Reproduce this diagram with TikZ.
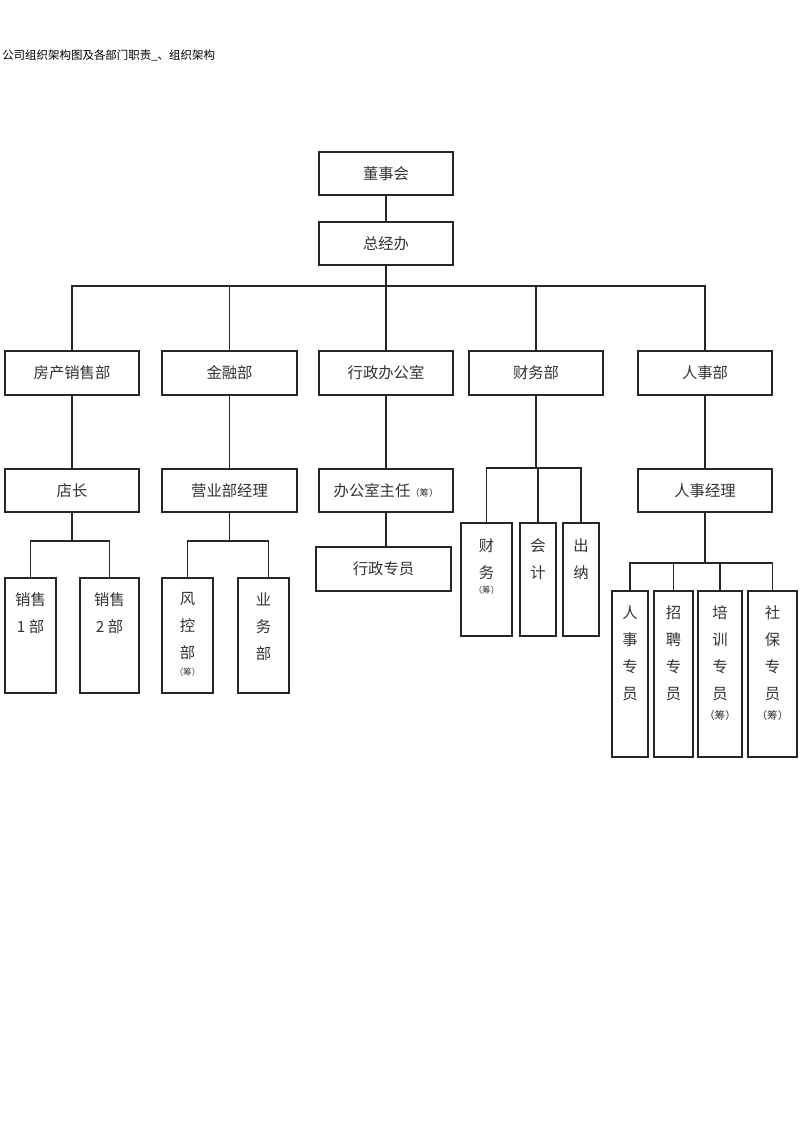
\documentclass[tikz,border=0pt]{standalone}
\usepackage{fontspec}
\setmainfont{Noto Sans CJK SC}
\begin{document}
\begin{tikzpicture}[x=0.75pt,y=-0.75pt,
  box/.style={draw=black!85,line width=0.85pt,inner sep=0pt,fill=white,
    text=black!80,font=\fontsize{11.5}{13}\selectfont},
  vt/.style={anchor=north,align=center,inner sep=0pt,text=black!80,
    font=\fontsize{11.5}{20.25}\selectfont},
  sm/.style={inner sep=0pt,text=black!80,font=\fontsize{6.5}{7}\selectfont},
  smb/.style={inner sep=0pt,text=black!80,font=\fontsize{8}{9}\selectfont},
  wire/.style={draw=black!85,line width=0.85pt}]
\useasboundingbox[fill=white] (0,0) rectangle (800,1130);
\node[anchor=west,inner sep=0pt,font=\fontsize{8.6}{10}\selectfont] (title) at (2,55) {公司组织架构图及各部门职责\_、组织架构};
% top
\node[box,minimum width=100.5pt,minimum height=32.25pt] (dsh) at (386,173.5) {董事会};
\node[box,minimum width=100.5pt,minimum height=32.25pt] (zjb) at (386,243.5) {总经办};
% row 2
\node[box,minimum width=100.5pt,minimum height=33pt] (fc) at (72,373) {房产销售部};
\node[box,minimum width=101.25pt,minimum height=33pt] (jr) at (229.5,373) {金融部};
\node[box,minimum width=100.5pt,minimum height=33pt] (xz) at (386,373) {行政办公室};
\node[box,minimum width=100.5pt,minimum height=33pt] (cw) at (536,373) {财务部};
\node[box,minimum width=100.5pt,minimum height=33pt] (rs) at (705,373) {人事部};
% row 3
\node[box,minimum width=100.5pt,minimum height=32.25pt] (dz) at (72,490.5) {店长};
\node[box,minimum width=101.25pt,minimum height=32.25pt] (yy) at (229.5,490.5) {营业部经理};
\node[box,minimum width=100.5pt,minimum height=32.25pt] (bgs) at (386,490.5) {办公室主任{\fontsize{7}{8}\selectfont（筹）}};
\node[box,minimum width=100.5pt,minimum height=32.25pt] (rsjl) at (705,490.5) {人事经理};
\node[box,minimum width=101.25pt,minimum height=33pt] (xzzy) at (383.5,569) {行政专员};
% tall boxes sales / finance
\node[box,minimum width=38.25pt,minimum height=86.25pt] (xs1) at (30.5,635.5) {};
\node[box,minimum width=44.25pt,minimum height=86.25pt] (xs2) at (109.5,635.5) {};
\node[box,minimum width=38.25pt,minimum height=86.25pt] (fk) at (187.5,635.5) {};
\node[box,minimum width=38.25pt,minimum height=86.25pt] (yw) at (263.5,635.5) {};
\node[vt] at ([yshift=-11pt]xs1.north) {销售\\1 部};
\node[vt] at ([yshift=-11pt]xs2.north) {销售\\2 部};
\node[vt] at ([yshift=-11pt]fk.north) {风\\控\\部};
\node[sm] at (187.5,672) {（筹）};
\node[vt] at ([yshift=-11pt]yw.north) {业\\务\\部};
\node[box,minimum width=38.25pt,minimum height=84.75pt] (cwb) at (486.5,579.5) {};
\node[box,minimum width=27pt,minimum height=84.75pt] (kj) at (538,579.5) {};
\node[box,minimum width=27pt,minimum height=84.75pt] (cn) at (581,579.5) {};
\node[vt] at ([yshift=-12pt]cwb.north) {财\\务};
\node[sm] at (486.5,590) {（筹）};
\node[vt] at ([yshift=-12pt]kj.north) {会\\计};
\node[vt] at ([yshift=-12pt]cn.north) {出\\纳};
% HR
\node[box,minimum width=27pt,minimum height=124.5pt] (rszy) at (630,674) {};
\node[box,minimum width=29.25pt,minimum height=124.5pt] (zp) at (673.5,674) {};
\node[box,minimum width=33pt,minimum height=124.5pt] (px) at (720,674) {};
\node[box,minimum width=36.75pt,minimum height=124.5pt] (sb) at (772.5,674) {};
\node[vt] at ([yshift=-11pt]rszy.north) {人\\事\\专\\员};
\node[vt] at ([yshift=-11pt]zp.north) {招\\聘\\专\\员};
\node[vt] at ([yshift=-11pt]px.north) {培\\训\\专\\员};
\node[smb] at (720,715) {（筹）};
\node[vt] at ([yshift=-11pt]sb.north) {社\\保\\专\\员};
\node[smb] at (772.5,715) {（筹）};
% connectors
\coordinate (bus) at (386,286);
\draw[wire] (dsh.south) -- (zjb.north);
\draw[wire] (zjb.south) -- (bus);
\draw[wire] (fc.north) |- (bus) -| (rs.north);
\draw[wire] (jr.north) -- (jr.north |- bus);
\draw[wire] (bus) -- (xz.north);
\draw[wire] (cw.north) -- (cw.north |- bus);
\draw[wire] (fc.south) -- (dz.north);
\draw[wire] (jr.south) -- (yy.north);
\draw[wire] (xz.south) -- (bgs.north);
\draw[wire] (rs.south) -- (rsjl.north);
\draw[wire] (bgs.south) -- (bgs.south |- xzzy.north);
\coordinate (dzb) at (72,541);
\draw[wire] (dz.south) -- (dzb);
\draw[wire] (xs1.north) |- (dzb) -| (xs2.north);
\coordinate (yyb) at (229.5,541);
\draw[wire] (yy.south) -- (yyb);
\draw[wire] (fk.north) |- (yyb) -| ([xshift=4pt]yw.north);
\coordinate (cwbus) at (536,468);
\draw[wire] (cw.south) -- (cwbus);
\draw[wire] (cwb.north) |- (cwbus) -| (cn.north);
\draw[wire] (kj.north) -- (kj.north |- cwbus);
\coordinate (rsb) at (705,563);
\draw[wire] (rsjl.south) -- (rsb);
\draw[wire] (rszy.north) |- (rsb) -| (sb.north);
\draw[wire] (zp.north) -- (zp.north |- rsb);
\draw[wire] (px.north) -- (px.north |- rsb);
\end{tikzpicture}
\end{document}
